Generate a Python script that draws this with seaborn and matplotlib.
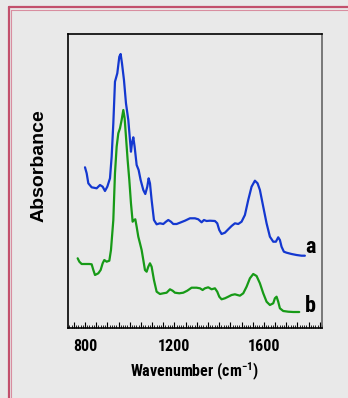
import numpy as np
import pandas as pd
import matplotlib
matplotlib.use('Agg')
import matplotlib.pyplot as plt
from matplotlib.lines import Line2D
from matplotlib.ticker import MultipleLocator, FuncFormatter
import seaborn as sns

# ── Data ──────────────────────────────────────────────────────────────────────

wn_a = [800.0, 807.5, 814.9, 829.8, 852.2, 867.1, 879.0, 889.4, 899.8, 911.8,
        919.2, 926.7, 934.1, 944.5, 953.5, 959.4, 965.4, 974.3, 983.3, 993.7,
        1001.2, 1005.6, 1010.1, 1016.1, 1022.0, 1031.0, 1039.9, 1048.8, 1060.8, 1069.7,
        1078.6, 1084.6, 1090.6, 1098.0, 1108.4, 1120.4, 1135.3, 1150.2, 1162.1, 1172.5,
        1184.4, 1194.8, 1209.8, 1224.7, 1247.0, 1269.4, 1291.7, 1306.6, 1321.5, 1332.0,
        1343.9, 1358.8, 1381.1, 1391.5, 1400.5, 1410.9, 1425.8, 1440.7, 1455.6, 1470.5,
        1485.4, 1500.3, 1515.2, 1530.1, 1545.0, 1559.9, 1571.8, 1582.3, 1597.2, 1612.1,
        1627.0, 1641.9, 1653.8, 1664.2, 1671.7, 1679.1, 1689.5, 1701.5, 1723.8, 1746.2,
        1768.5, 1783.4]
abs_a = [1.607, 1.547, 1.447, 1.407, 1.397, 1.430, 1.413, 1.370, 1.413, 1.497,
         1.713, 2.047, 2.463, 2.547, 2.713, 2.740, 2.647, 2.480, 2.247, 2.080,
         1.880, 1.763, 1.847, 1.907, 1.813, 1.630, 1.580, 1.480, 1.380, 1.340,
         1.413, 1.497, 1.447, 1.280, 1.080, 1.037, 1.047, 1.040, 1.063, 1.080,
         1.063, 1.040, 1.040, 1.053, 1.073, 1.097, 1.097, 1.087, 1.057, 1.080,
         1.070, 1.073, 1.070, 1.047, 0.980, 0.940, 0.953, 0.987, 1.020, 1.047,
         1.040, 1.063, 1.130, 1.280, 1.413, 1.473, 1.447, 1.380, 1.213, 1.047,
         0.913, 0.863, 0.863, 0.907, 0.880, 0.813, 0.763, 0.753, 0.740, 0.730,
         0.723, 0.723]

wn_b = [767.2, 774.7, 785.1, 800.0, 819.4, 829.8, 837.3, 844.7, 859.6, 870.0,
        879.0, 886.4, 896.9, 908.8, 916.2, 926.7, 934.1, 941.6, 949.0, 956.5,
        963.9, 971.4, 977.3, 983.3, 990.7, 998.2, 1005.6, 1013.1, 1019.0, 1025.0,
        1031.0, 1038.4, 1045.9, 1053.3, 1060.8, 1068.2, 1075.7, 1083.1, 1090.6, 1098.0,
        1108.4, 1120.4, 1135.3, 1150.2, 1165.1, 1180.0, 1191.9, 1202.3, 1221.7, 1239.6,
        1257.4, 1276.8, 1299.2, 1314.1, 1326.0, 1336.4, 1351.3, 1366.2, 1381.1, 1391.5,
        1400.5, 1410.9, 1425.8, 1440.7, 1455.6, 1470.5, 1492.9, 1507.8, 1522.7, 1537.6,
        1552.5, 1567.4, 1582.3, 1597.2, 1612.1, 1627.0, 1641.9, 1649.3, 1656.8, 1664.2,
        1671.7, 1686.6, 1708.9, 1731.3, 1758.1]
abs_b = [0.697, 0.663, 0.640, 0.640, 0.640, 0.637, 0.580, 0.530, 0.547, 0.580,
         0.647, 0.680, 0.663, 0.673, 0.780, 1.080, 1.547, 1.813, 1.947, 1.997,
         2.080, 2.180, 2.097, 1.913, 1.680, 1.480, 1.247, 1.063, 1.080, 1.087,
         1.013, 0.913, 0.847, 0.780, 0.680, 0.580, 0.563, 0.613, 0.647, 0.613,
         0.480, 0.363, 0.340, 0.347, 0.353, 0.387, 0.373, 0.353, 0.347, 0.353,
         0.373, 0.403, 0.403, 0.397, 0.380, 0.397, 0.407, 0.387, 0.397, 0.363,
         0.313, 0.287, 0.297, 0.313, 0.330, 0.337, 0.323, 0.347, 0.413, 0.497,
         0.540, 0.520, 0.447, 0.347, 0.263, 0.230, 0.247, 0.297, 0.313, 0.263,
         0.197, 0.170, 0.163, 0.160, 0.160]

SERIES = ['a', 'b']
COLORS = {'a': '#1438d0', 'b': '#179a17'}
TICK_LABELS = [800, 1200, 1600]

BG = '#e9e9e9'
NARROW = ['Liberation Sans Narrow', 'Roboto Condensed', 'Asap Condensed', 'DejaVu Sans']

# ── Plot ──────────────────────────────────────────────────────────────────────

sns.set_style('white')
plt.rcParams['font.family'] = NARROW
plt.rcParams['font.stretch'] = 'condensed'
plt.rcParams['mathtext.default'] = 'regular'
plt.rcParams['text.color'] = 'black'
plt.rcParams['xtick.color'] = 'black'
plt.rcParams['axes.labelcolor'] = 'black'

df = pd.concat([
    pd.DataFrame({'wn': wn_a, 'absorb': abs_a, 'sample': 'a'}),
    pd.DataFrame({'wn': wn_b, 'absorb': abs_b, 'sample': 'b'}),
], ignore_index=True)

fig = plt.figure(figsize=(3.48, 3.98), dpi=100, facecolor=BG)
ax = fig.add_axes([68/348, 1 - 328/398, 254/348, 294/398])
ax.set_facecolor(BG)

sns.lineplot(data=df, x='wn', y='absorb', hue='sample', palette=COLORS,
             sort=False, estimator=None, linewidth=1.6, legend=False, ax=ax)

ax.set_xlim(724, 1860)
ax.set_ylim(0, 2.94)
ax.set_yticks([])
ax.set_ylabel('')
ax.set_xlabel('Wavenumber (cm$^{-1}$)', fontsize=11.5, fontweight='bold',
              labelpad=5)

# y label sits above the axes centre in the reference
fig.text(39.5/348, 1 - 166/398, 'Absorbance', rotation=90, ha='center', va='center',
         fontsize=14, fontweight='bold', family=['Liberation Sans', 'DejaVu Sans'],
         fontstretch='normal')

ax.xaxis.set_major_locator(MultipleLocator(50))
ax.xaxis.set_minor_locator(MultipleLocator(10))
ax.xaxis.set_major_formatter(FuncFormatter(
    lambda v, p: f'{int(v)}' if int(round(v)) in TICK_LABELS else ''))
ax.tick_params(axis='x', which='major', direction='in', length=4.5, width=0.8,
               pad=8, labelsize=11.5, bottom=True)
ax.tick_params(axis='x', which='minor', direction='in', length=2, width=0.6,
               bottom=True)
for lbl in ax.get_xticklabels():
    lbl.set_fontweight('bold')

for side in ['left', 'top', 'bottom']:
    ax.spines[side].set_color('black')
    ax.spines[side].set_linewidth(1.2)
ax.spines['right'].set_color('#666666')
ax.spines['right'].set_linewidth(1.2)

# curve labels
ax.text(1807, 0.75, 'a', fontsize=16, fontweight='bold', ha='center', va='baseline')
ax.text(1807, 0.16, 'b', fontsize=16, fontweight='bold', ha='center', va='baseline')

# pink page frame (double line)
fig.add_artist(Line2D([8.5/348, 8.5/348], [-0.1, 1 - 7/398], transform=fig.transFigure,
                      color='#c2506c', linewidth=1.6))
fig.add_artist(Line2D([8.5/348, 1.1], [1 - 7/398, 1 - 7/398], transform=fig.transFigure,
                      color='#c2506c', linewidth=1.6))
fig.add_artist(Line2D([11/348, 11/348], [-0.1, 1 - 9.5/398], transform=fig.transFigure,
                      color='#d88ea0', linewidth=0.8))
fig.add_artist(Line2D([11/348, 1.1], [1 - 9.5/398, 1 - 9.5/398], transform=fig.transFigure,
                      color='#d88ea0', linewidth=0.8))

fig.savefig('out.png', dpi=100, facecolor=BG)
